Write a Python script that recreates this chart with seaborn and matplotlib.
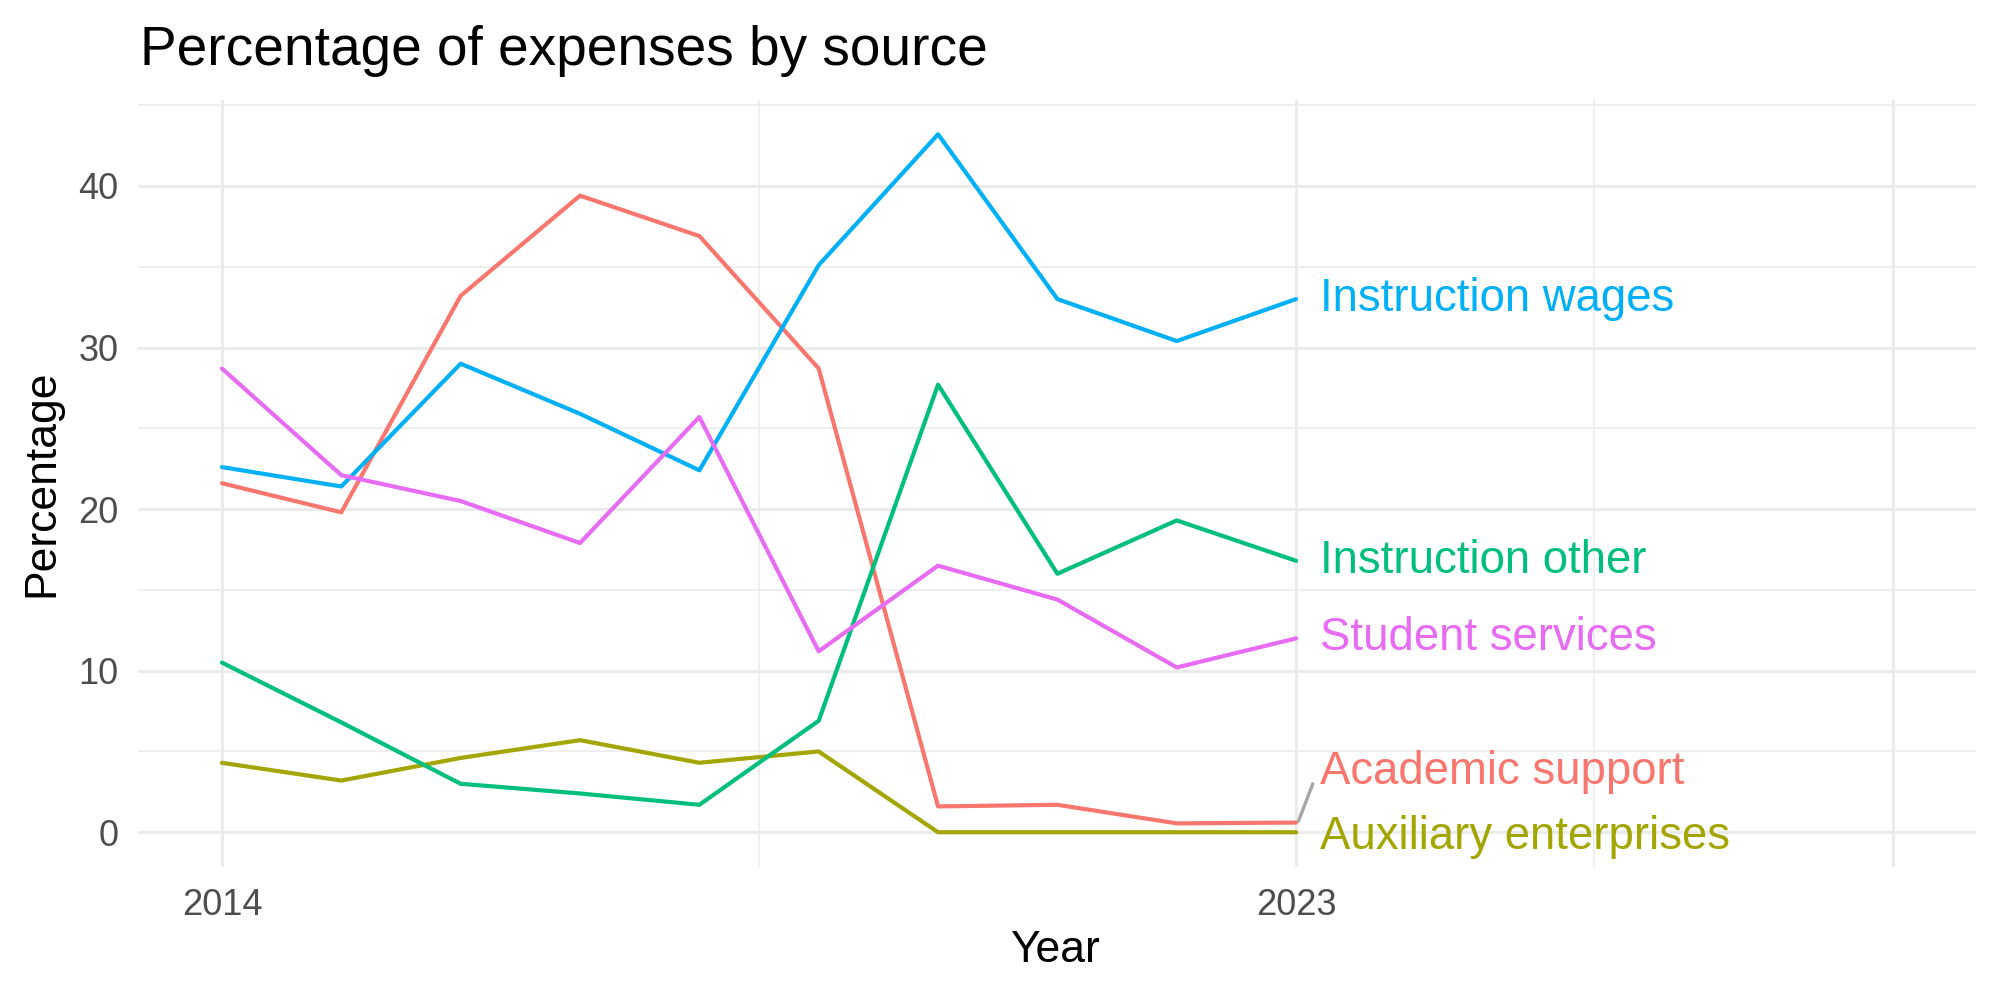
import pandas as pd
import matplotlib.pyplot as plt
import seaborn as sns
from matplotlib.ticker import FixedLocator

# data
years = list(range(2014, 2024))
academic_support = [21.6, 19.8, 33.2, 39.4, 36.9, 28.7, 1.6, 1.7, 0.55, 0.6]
auxiliary_enterprises = [4.3, 3.2, 4.6, 5.7, 4.3, 5.0, 0.0, 0.0, 0.0, 0.0]
instruction_other = [10.5, 6.8, 3.0, 2.4, 1.7, 6.9, 27.7, 16.0, 19.3, 16.8]
instruction_wages = [22.6, 21.4, 29.0, 25.9, 22.4, 35.1, 43.2, 33.0, 30.4, 33.0]
student_services = [28.7, 22.1, 20.5, 17.9, 25.7, 11.2, 16.5, 14.4, 10.2, 12.0]

sources = ["Academic support", "Auxiliary enterprises", "Instruction other",
           "Instruction wages", "Student services"]
colors = ["#F8766D", "#A3A500", "#00BF7D", "#00B0F6", "#E76BF3"]

# label y positions (repelled, like ggrepel)
label_y = [3.7, -0.3, 16.8, 33.0, 12.0]

df = pd.DataFrame({
    "Year": years * 5,
    "Percentage": academic_support + auxiliary_enterprises + instruction_other
                  + instruction_wages + student_services,
    "Source": sum([[s] * len(years) for s in sources], []),
})

sns.set_theme(style="whitegrid")
plt.rcParams["font.family"] = ["Liberation Sans", "DejaVu Sans"]

fig = plt.figure(figsize=(10, 5), dpi=200)
ax = fig.add_axes([0.0692, 0.133, 0.919, 0.7675])

sns.lineplot(data=df, x="Year", y="Percentage", hue="Source",
             hue_order=sources, palette=colors, linewidth=1.5,
             legend=False, ax=ax)

# labels at the end of each line
for s, c, ly in zip(sources, colors, label_y):
    ax.text(2023.2, ly, s, color=c, fontsize=16.4, va="center", ha="left")

# segment for the label that got pushed away
last = df[(df["Source"] == "Academic support") & (df["Year"] == 2023)]
ax.plot([2023.02, 2023.14], [last["Percentage"].iloc[0] + 0.1, 3.0],
        color="#A6A6A6", lw=1.2)

ax.set_xlim(2013.3, 2028.7)
ax.set_ylim(-2.15, 45.35)
ax.xaxis.set_major_locator(FixedLocator([2014, 2023, 2028]))
ax.xaxis.set_minor_locator(FixedLocator([2018.5, 2025.5]))
ax.set_xticklabels(["2014", "2023", ""])
ax.yaxis.set_major_locator(FixedLocator([0, 10, 20, 30, 40]))
ax.yaxis.set_minor_locator(FixedLocator([5, 15, 25, 35, 45]))

ax.grid(which="major", color="#EBEBEB", linewidth=1.1)
ax.grid(which="minor", color="#EBEBEB", linewidth=0.55)
ax.set_facecolor("white")
for sp in ax.spines.values():
    sp.set_visible(False)
ax.tick_params(which="both", length=0, labelsize=13, labelcolor="#4D4D4D")
ax.tick_params(axis="x", pad=7.5)
ax.tick_params(axis="y", pad=7.2)

ax.set_xlabel("")
ax.set_ylabel("")
fig.text(0.5275, 0.05, "Year", fontsize=16, ha="center", va="center",
         color="black")
fig.text(0.021, 0.517, "Percentage", fontsize=16, ha="center", va="center",
         rotation=90, color="black")
fig.text(0.07, 0.935, "Percentage of expenses by source", fontsize=19.8,
         ha="left", va="baseline", color="black")

fig.savefig("out.png", dpi=200, facecolor="white")
